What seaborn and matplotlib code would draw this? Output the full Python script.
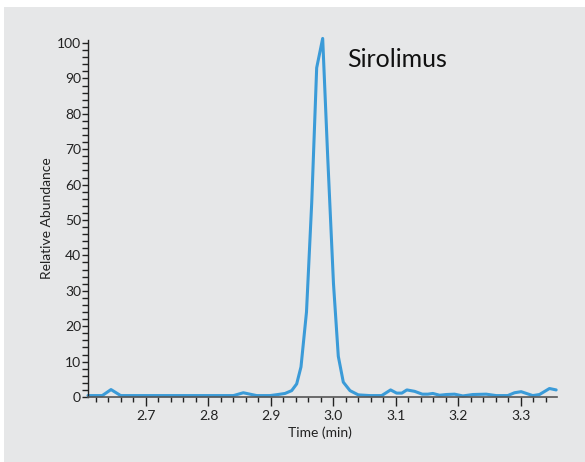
import matplotlib
matplotlib.use('Agg')
import matplotlib.pyplot as plt
import seaborn as sns
import pandas as pd
from matplotlib.ticker import MultipleLocator
from matplotlib.patches import Rectangle

# Chromatogram trace
time_min = [2.6072, 2.630, 2.644, 2.6595, 2.700, 2.760, 2.820, 2.840, 2.8557, 2.8771,
            2.8984, 2.9112, 2.9224, 2.9331, 2.9411, 2.948, 2.9568, 2.9652, 2.9731, 2.9827,
            2.9907, 3.000, 3.0077, 3.0157, 3.0264, 3.0397, 3.0584, 3.0771, 3.0914, 3.1010,
            3.1094, 3.1174, 3.1298, 3.1421, 3.1510, 3.1590, 3.1698, 3.1805, 3.1938, 3.2070,
            3.2230, 3.2443, 3.2603, 3.2789, 3.2896, 3.3003, 3.3189, 3.3296, 3.3456, 3.3563]
abundance = [0.4, 0.4, 2.1, 0.4, 0.4, 0.4, 0.4, 0.4, 1.2, 0.4,
             0.4, 0.7, 1.0, 1.8, 3.7, 8.5, 24.0, 55.0, 93.0, 101.3,
             68.0, 32.0, 11.5, 4.2, 1.8, 0.6, 0.4, 0.4, 2.0, 1.1,
             1.1, 2.0, 1.6, 0.8, 0.8, 1.0, 0.5, 0.7, 0.8, 0.3,
             0.7, 0.8, 0.4, 0.4, 1.2, 1.5, 0.4, 0.7, 2.4, 2.0]
compound = 'Sirolimus'

df = pd.DataFrame({'Time (min)': time_min, 'Relative Abundance': abundance})

sns.set_style('white')
plt.rcParams['font.family'] = ['Lato', 'DejaVu Sans']

bg = '#e6e7e8'
fig = plt.figure(figsize=(5.85, 4.62), dpi=100, facecolor='white')
fig.patches.append(Rectangle((4 / 585, 0), 1, 1 - 7 / 462, transform=fig.transFigure,
                             facecolor=bg, edgecolor='none', zorder=-10))
ax = fig.add_axes([88 / 585, 65 / 462, 468.6 / 585, 357.5 / 462])
ax.set_facecolor('none')

sns.lineplot(data=df, x='Time (min)', y='Relative Abundance', ax=ax,
             color='#3b9bd8', linewidth=2.2, clip_on=False)

ax.set_xlim(2.6072, 3.357)
ax.set_ylim(0, 101)

ax.xaxis.set_major_locator(MultipleLocator(0.1))
ax.xaxis.set_minor_locator(MultipleLocator(0.02))
ax.yaxis.set_major_locator(MultipleLocator(10))
ax.yaxis.set_minor_locator(MultipleLocator(2))
ax.set_xticks([2.7, 2.8, 2.9, 3.0, 3.1, 3.2, 3.3])
ax.set_xticklabels(['2.7', '2.8', '2.9', '3.0', '3.1', '3.2', '3.3'])

ax.tick_params(which='both', bottom=True, left=True)
ax.tick_params(axis='x', which='major', direction='out', length=6.5, width=1,
               color='#222222', labelsize=10, labelcolor='#222222', pad=3)
ax.tick_params(axis='x', which='minor', direction='out', length=3.8, width=1, color='#222222')
ax.tick_params(axis='y', which='major', direction='out', length=4, width=1,
               color='#222222', labelsize=10, labelcolor='#222222', pad=1)
ax.tick_params(axis='y', which='minor', direction='out', length=4, width=1, color='#222222')

for s in ['top', 'right']:
    ax.spines[s].set_visible(False)
ax.spines['left'].set_color('#222222')
ax.spines['left'].set_linewidth(1)
ax.spines['bottom'].set_color('#555555')
ax.spines['bottom'].set_linewidth(1.2)

ax.set_xlabel('Time (min)', fontsize=10, color='#222222')
ax.set_ylabel('Relative Abundance', fontsize=10, color='#222222')
ax.xaxis.set_label_coords(0.495, -0.083)
ax.yaxis.set_label_coords(-0.075, 0.5)

ax.text(3.0216, 93.3, compound, fontsize=18, color='#111111', ha='left', va='baseline')

fig.savefig('out.png', dpi=100, facecolor='white')
